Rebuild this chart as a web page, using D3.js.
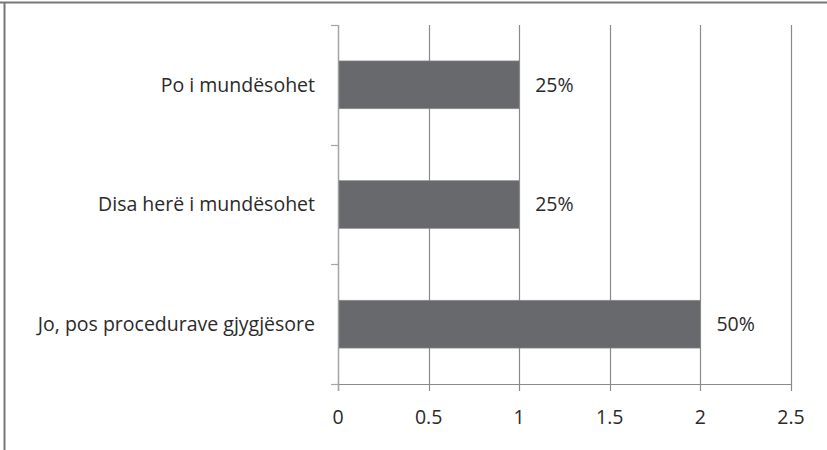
<!DOCTYPE html>
<html>
<head>
<meta charset="utf-8">
<script src="https://d3js.org/d3.v7.min.js"></script>
<style>
  body { margin: 0; background: #fff; }
  svg { display: block; font-family: "Open Sans", sans-serif; }
  .cat-label, .val-label, .tick-label { fill: #2a2a2a; font-size: 19.5px; }
</style>
</head>
<body>
<svg id="chart" width="827" height="450"></svg>
<script>
// dados (de cima para baixo)
const categories = ['Po i mundësohet', 'Disa herë i mundësohet', 'Jo, pos procedurave gjygjësore'];
const values = [1, 1, 2];
const valueLabels = ['25%', '25%', '50%'];
const xTicks = [0, 0.5, 1, 1.5, 2, 2.5];

const svg = d3.select('#chart');
const margin = { top: 25, right: 36, bottom: 66, left: 338 };
const width = 827 - margin.left - margin.right;
const height = 450 - margin.top - margin.bottom;

// moldura (só topo e esquerda visíveis)
svg.append('line').attr('x1', 0).attr('x2', 827).attr('y1', 2.5).attr('y2', 2.5)
  .attr('stroke', '#777').attr('stroke-width', 2);
svg.append('line').attr('x1', 4.5).attr('x2', 4.5).attr('y1', 2).attr('y2', 450)
  .attr('stroke', '#777').attr('stroke-width', 2);

const g = svg.append('g').attr('transform', `translate(${margin.left},${margin.top})`);

const x = d3.scaleLinear().domain([0, 2.5]).range([0, width]);
const y = d3.scaleBand().domain(categories).range([0, height]).paddingInner(0.6).paddingOuter(0.3);

// grelha vertical
g.selectAll('.grid').data(xTicks.slice(1)).join('line')
  .attr('class', 'grid')
  .attr('x1', d => Math.round(x(d)) + 0.5).attr('x2', d => Math.round(x(d)) + 0.5)
  .attr('y1', 0).attr('y2', height)
  .attr('stroke', '#8a8a8a').attr('stroke-width', 1.2);

// eixo X
g.append('line').attr('x1', 0).attr('x2', width).attr('y1', height + 0.5).attr('y2', height + 0.5)
  .attr('stroke', '#8a8a8a').attr('stroke-width', 1.2);
g.selectAll('.xtick').data(xTicks).join('line')
  .attr('class', 'xtick')
  .attr('x1', d => Math.round(x(d)) + 0.5).attr('x2', d => Math.round(x(d)) + 0.5)
  .attr('y1', height).attr('y2', height + 7)
  .attr('stroke', '#8a8a8a').attr('stroke-width', 1.2);
g.selectAll('.tick-label').data(xTicks).join('text')
  .attr('class', 'tick-label')
  .attr('x', d => x(d)).attr('y', height + 40)
  .attr('text-anchor', 'middle')
  .text(d => d);

// eixo Y
g.append('line').attr('x1', 0.5).attr('x2', 0.5).attr('y1', 0).attr('y2', height + 7)
  .attr('stroke', '#a5a5a5').attr('stroke-width', 1.5);
g.selectAll('.ytick').data(d3.range(categories.length + 1)).join('line')
  .attr('class', 'ytick')
  .attr('x1', -7).attr('x2', 0)
  .attr('y1', i => Math.round(i * height / categories.length) + 0.5)
  .attr('y2', i => Math.round(i * height / categories.length) + 0.5)
  .attr('stroke', '#a5a5a5').attr('stroke-width', 1.2);

// barras
g.selectAll('.bar').data(categories).join('rect')
  .attr('class', 'bar')
  .attr('x', 1)
  .attr('y', d => y(d))
  .attr('width', (d, i) => x(values[i]) - 1)
  .attr('height', y.bandwidth())
  .attr('fill', '#68696d')
  .attr('stroke', '#909090').attr('stroke-width', 0.6);

// rótulos das categorias
g.selectAll('.cat-label').data(categories).join('text')
  .attr('class', 'cat-label')
  .attr('x', -23)
  .attr('y', d => y(d) + y.bandwidth() / 2)
  .attr('dy', '0.35em')
  .attr('text-anchor', 'end')
  .text(d => d);

// rótulos dos valores
g.selectAll('.val-label').data(categories).join('text')
  .attr('class', 'val-label')
  .attr('x', (d, i) => x(values[i]) + 16)
  .attr('y', d => y(d) + y.bandwidth() / 2)
  .attr('dy', '0.35em')
  .text((d, i) => valueLabels[i]);
</script>
</body>
</html>
